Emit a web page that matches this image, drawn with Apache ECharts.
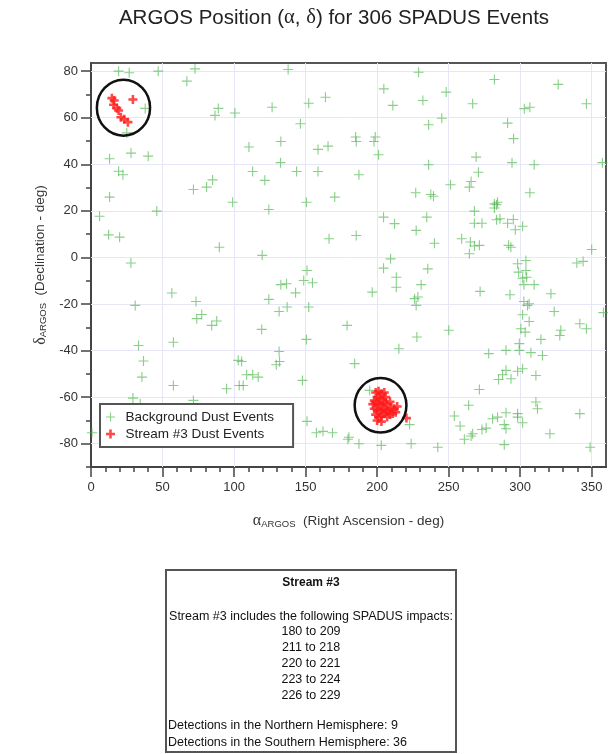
<!DOCTYPE html>
<html><head><meta charset="utf-8">
<script src="https://cdn.jsdelivr.net/npm/echarts@6/dist/echarts.min.js"></script>
<style>html,body{margin:0;padding:0;background:#fff}#c{width:608px;height:754px}</style>
</head><body><div id="c"></div>
<script>
// ---- data ----
const xMajorTicks = [0, 50, 100, 150, 200, 250, 300, 350];
const xMinorTicks = [10,20,30,40,60,70,80,90,110,120,130,140,160,170,180,190,210,220,230,240,260,270,280,290,310,320,330,340];
const yMajorTicks = [-80, -60, -40, -20, 0, 20, 40, 60, 80];
const yMinorTicks = [-90, -70, -50, -30, -10, 10, 30, 50, 70];

const backgroundEvents = [
[19.3,80],[26.7,79.3],[47,80],[72.7,81],[67,75.7],[37.9,64],[89,64],[86.7,61],[100.6,62],[25,53.5],[13,42.4],[28,44.8],[40,43.5],[19.3,37],[22.3,35.5],[71.6,29.2],[80.8,30.2],[85,33.3],[13,25.9],[99,23.7],
[137.8,80.7],[126.6,64.5],[152.2,66.2],[163.9,68.8],[204.7,72.4],[211,65.3],[229,79.5],[146.4,57.4],[110.4,47.4],[132.7,49.8],[158.7,46.4],[165.7,47.8],[185,51.7],[185.4,49.8],[198.7,51.7],[197.8,49.8],[201,44.1],[113,36.9],[132.5,40.7],[121.5,33.1],[143.7,36.9],[158.7,36.9],[187.3,35.5],[227,27.8],[150.6,23.7],[170.4,25.9],
[282,76.4],[326.6,74.3],[232,67.4],[248.3,71],[266.8,66],[302.9,63.9],[306.8,64.5],[346.3,66],[236,57],[245.2,59.8],[291.2,57.7],[295.4,51],[236,39.8],[269.2,43.1],[270.8,36.6],[265.7,32.6],[264.5,30.2],[251.3,31.2],[294.3,40.7],[309.8,39.8],[357.5,40.7],[239.4,26.3],[237.5,27],[306.8,27.8],[282,23],[284.2,23.7],
[6,17.7],[46,19.9],[12.3,9.7],[20,8.7],[89.7,4.4],[27.9,-2.4],[30.9,-20.6],[56.5,-15.3],[73.4,-18.9],[77.4,-24.5],[73.9,-26.3],[84.4,-29.2],[87.9,-27.3],[57.6,-36.4],[33.2,-37.8],
[124.3,20.6],[204.5,17.3],[212.2,14.5],[227.3,11.6],[166.4,8],[185.4,9.4],[119.7,0.9],[209.4,-0.6],[204.5,-4.6],[151,-5.6],[148.7,-9.9],[154.8,-10.9],[132.7,-11.7],[136.7,-11.3],[143,-15.2],[213.4,-8.5],[213.4,-12.8],[196.6,-14.9],[124.3,-18],[137.1,-21.3],[131.5,-23.2],[152.2,-21.3],[228.5,-17],[226.2,-17.7],[227.3,-20.6],[179,-29.2],[119.3,-30.9],[150.6,-35.2],[227.8,-34.2],
[283.5,22.6],[282,21.2],[268,19.9],[234.7,17.3],[268,14.7],[273.3,14.7],[283.5,16.2],[285.9,16.6],[291.2,14.7],[295.2,16.3],[296.6,11.9],[301.7,13.4],[240.1,6.1],[259.1,8],[265.2,6.6],[268,4.9],[271.5,5.2],[264.5,1.6],[291.9,5.2],[293.5,4.4],[350,3.4],[339.6,-2.4],[344,-1.7],[298.2,-2.7],[304,-1.3],[298.9,-6.3],[304,-5.6],[301.7,-8.9],[304.5,-8.5],[302.6,-11.7],[309.8,-11.7],[235.4,-4.9],[230.8,-11.7],[272,-14.6],[292.9,-16],[321.5,-15.6],[302.6,-18.9],[306.3,-19.9],[305.1,-20.6],[323.8,-23.2],[358.2,-23.7],[301.7,-24.6],[306.3,-27.5],[341.7,-28.5],[346.3,-30.6],[250.1,-31.3],[300.5,-30.6],[303.5,-32.1],[328.4,-31.3],[327.7,-33.5],[314.5,-35.2],[299.4,-37],
[36.7,-44.5],[35.6,-51.4],[57.6,-55],[94.8,-56.4],[102.9,-44.2],[103.6,-55],[29.3,-60.4],[71.6,-61.4],[34.4,-62.8],[0.7,-75.3],
[131.5,-40.4],[131.8,-44.7],[129.5,-46.1],[105.3,-44.7],[108.8,-50.4],[113,-50.4],[116.9,-51.4],[106.4,-55],[147.8,-52.8],[184.3,-45.6],[215.2,-39.2],[151,-70.4],[157.6,-75.3],[162.2,-74.7],[168.8,-75.3],[180.3,-77.2],[179.6,-78.1],[187.3,-80],[194.8,-57.1],[202.9,-80.7],[222.7,-71.8],[223.8,-80],
[278,-41.3],[290.1,-39.9],[299.4,-39.9],[307.5,-40.9],[315.6,-42.1],[301.7,-47.8],[298.2,-48.9],[290.1,-48.5],[287.7,-50.4],[284.9,-52.4],[293.6,-52.1],[311,-50.7],[271.5,-56.7],[264,-63.5],[254,-68.1],[258,-72.4],[261,-78.1],[265.7,-76.7],[266.8,-75.7],[273.3,-73.9],[276.2,-73.3],[280.7,-69.3],[284.2,-68.6],[290.1,-66.7],[288.9,-71.8],[290.1,-73.6],[288.9,-80.4],[298.2,-67.1],[298.2,-68.6],[301.7,-71],[311,-62.1],[312.1,-65],[320.8,-75.7],[341.7,-67.1],[348.9,-81.5],[242.4,-81.5]
];

const streamEvents = [
[14.6,68.4],[16.2,67.4],[29.3,67.8],[15.8,65.6],[18.1,64.1],[19.3,63.1],[20.9,60.2],[23.2,59.3],[25.8,58.1],
[199,-58],[201,-57.5],[203,-58.5],[205,-58],[200,-60],[202,-60.5],[204,-61],[206,-60],[198,-61.5],[197,-63],
[199,-62.5],[201,-63],[203,-63.5],[205,-62.5],[207,-63],[209,-62],[198,-65],[200,-65.5],[202,-66],[204,-65],
[206,-65.5],[208,-66],[210,-64.5],[212,-65],[214,-64],[199,-67.5],[201,-68.5],[203,-68],[205,-67],[207,-68.5],
[209,-67.5],[211,-67],[213,-66.5],[200,-70],[203,-70.5],[220.5,-69]
];

// ellipse annotations: [centerAlpha, centerDelta, radiusAlpha, radiusDelta]
const streamEllipses = [[22.7, 64.3, 18.6, 12.0], [202.4, -63.5, 18.1, 11.7]];

const titleText = 'ARGOS Position ({g|α}, {g|δ}) for 306 SPADUS Events';
const boxTitle = 'Stream #3';
const boxIntro = 'Stream #3 includes the following SPADUS impacts:';
const impactRanges = ['180 to 209', '211 to 218', '220 to 221', '223 to 224', '226 to 229'];
const hemisphereLines = ['Detections in the Northern Hemisphere: 9', 'Detections in the Southern Hemisphere: 36'];

// ---- chart ----
const FONT = 'Liberation Sans, Arial, sans-serif';
const greenPlus = 'path://M4,0H5V4H9V5H5V9H4V5H0V4H4Z';
const redPlus = 'path://M3.2,0H5.8V3.2H9V5.8H5.8V9H3.2V5.8H0V3.2H3.2Z';

const chart = echarts.init(document.getElementById('c'), null, {renderer: 'canvas'});

const boxLeft = 166, boxTop = 570, boxW = 290, boxH = 182;
const cx = boxLeft + boxW / 2;
const boxTexts = [];
boxTexts.push({type:'text', x: cx, y: 583, style:{text: boxTitle, font: 'bold 12px ' + FONT, fill:'#111', align:'center', verticalAlign:'middle'}});
boxTexts.push({type:'text', x: cx, y: 617, style:{text: boxIntro, font: '12.5px ' + FONT, fill:'#111', align:'center', verticalAlign:'middle'}});
impactRanges.forEach((t, i) => boxTexts.push({type:'text', x: cx, y: 632 + i * 15.8, style:{text: t, font: '12.5px ' + FONT, fill:'#111', align:'center', verticalAlign:'middle'}}));
hemisphereLines.forEach((t, i) => boxTexts.push({type:'text', x: boxLeft + 2, y: 726 + i * 16.5, style:{text: t, font: '12.5px ' + FONT, fill:'#111', align:'left', verticalAlign:'middle'}}));

const splitLineData = [];
xMajorTicks.forEach(v => { if (v > 0) splitLineData.push({xAxis: v}); });
yMajorTicks.forEach(v => splitLineData.push({yAxis: v}));

const nameRich = (g) => ({
  [g]: {fontFamily: 'Liberation Serif, serif', fontSize: 16, color: '#333'},
  s: {fontSize: 9.5, color: '#333', verticalAlign: 'bottom', lineHeight: 16, padding: [7, 0, 0, 0]}
});

const option = {
  animation: false,
  backgroundColor: '#fff',
  grid: {left: 91, right: 2, top: 63, bottom: 287, show: true, borderColor: '#555', borderWidth: 2, backgroundColor: 'transparent'},
  xAxis: [{
    type: 'value', min: 0, max: 360, interval: 50, position: 'bottom',
    axisLine: {show: true, onZero: false, lineStyle: {color: '#444', width: 2}},
    axisTick: {show: true, length: 10, customValues: xMajorTicks, lineStyle: {color: '#444', width: 1.5}},
    axisLabel: {customValues: xMajorTicks, color: '#333', fontSize: 13, fontFamily: FONT, margin: 14},
    splitLine: {show: false},
    name: '{a|α}{s|ARGOS}  (Right Ascension - deg)', nameLocation: 'middle', nameGap: 46,
    nameTextStyle: {fontSize: 13.5, color: '#333', fontFamily: FONT, rich: nameRich('a')}
  }, {
    type: 'value', min: 0, max: 360, position: 'bottom', gridIndex: 0,
    axisLine: {show: false, onZero: false}, axisLabel: {show: false}, splitLine: {show: false},
    axisTick: {show: true, length: 5, customValues: xMinorTicks, lineStyle: {color: '#444', width: 1.5}}
  }],
  yAxis: [{
    type: 'value', min: -90, max: 83.5, position: 'left',
    axisLine: {show: true, onZero: false, lineStyle: {color: '#444', width: 2}},
    axisTick: {show: true, length: 10, customValues: yMajorTicks, lineStyle: {color: '#444', width: 1.5}},
    axisLabel: {customValues: yMajorTicks, color: '#333', fontSize: 13, fontFamily: FONT, margin: 13},
    splitLine: {show: false},
    name: '{d|δ}{s|ARGOS}  (Declination - deg)', nameLocation: 'middle', nameGap: 42, nameRotate: 90,
    nameTextStyle: {fontSize: 13.5, color: '#333', fontFamily: FONT, rich: nameRich('d')}
  }, {
    type: 'value', min: -90, max: 83.5, position: 'left', gridIndex: 0,
    axisLine: {show: false, onZero: false}, axisLabel: {show: false}, splitLine: {show: false},
    axisTick: {show: true, length: 5, customValues: yMinorTicks, lineStyle: {color: '#444', width: 1.5}}
  }],
  legend: {
    orient: 'vertical', left: 100, top: 404, itemWidth: 20, itemHeight: 9, itemGap: 3,
    padding: [6, 19, 6, 6], borderColor: '#555', borderWidth: 2, backgroundColor: '#fff',
    textStyle: {fontSize: 13.5, color: '#222', fontFamily: FONT},
    data: [{name: 'Background Dust Events', icon: greenPlus}, {name: 'Stream #3 Dust Events', icon: redPlus}]
  },
  series: [{
    name: 'Background Dust Events', type: 'scatter', data: backgroundEvents,
    symbol: greenPlus, symbolSize: 10, itemStyle: {color: 'rgba(70,180,70,0.8)'}, z: 3,
    markLine: {silent: true, symbol: 'none', label: {show: false}, animation: false,
      lineStyle: {color: '#e6e6f6', width: 1, type: 'solid'}, data: splitLineData, z: 1}
  }, {
    name: 'Stream #3 Dust Events', type: 'scatter', data: streamEvents,
    symbol: redPlus, symbolSize: 9, itemStyle: {color: '#ff1a1a'}, z: 4
  }, {
    type: 'custom', name: 'ellipses', data: streamEllipses, z: 5, silent: true,
    renderItem: function (params, api) {
      const c = api.coord([api.value(0), api.value(1)]);
      const s = api.size([api.value(2), api.value(3)]);
      return {type: 'ellipse', shape: {cx: c[0], cy: c[1], rx: s[0], ry: s[1]},
        style: {fill: null, stroke: '#111', lineWidth: 2.5}};
    }
  }],
  graphic: [
    {type: 'text', x: 334, y: 18, style: {text: titleText, font: '20.5px ' + FONT, fill: '#222', align: 'center', verticalAlign: 'middle',
      rich: {g: {fontFamily: 'Liberation Serif, serif', fontSize: 20.5, fill: '#222'}}}},
    {type: 'rect', shape: {x: boxLeft, y: boxTop, width: boxW, height: boxH}, style: {fill: '#fff', stroke: '#555', lineWidth: 2}},
    ...boxTexts
  ]
};
chart.setOption(option);
</script>
</body></html>
